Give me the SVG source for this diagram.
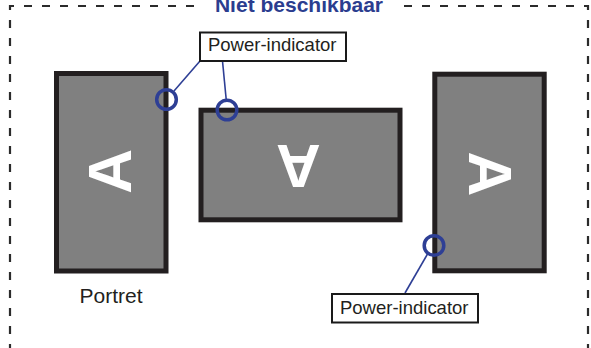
<svg xmlns="http://www.w3.org/2000/svg" width="591" height="348" viewBox="0 0 591 348">
<style>
.frame{fill:none;stroke:#2b2b2b;stroke-width:2.2;stroke-dasharray:8 10}
.screen{fill:#808080;stroke:#231f20;stroke-width:5}
.bigA{font-family:"Liberation Sans",Arial,sans-serif;font-weight:bold;font-size:62px;fill:#ffffff;text-anchor:middle}
.ind{fill:none;stroke:#2e3f95;stroke-width:3.5}
.lead{stroke:#2e3f95;stroke-width:1.6;fill:none}
.lbox{fill:#ffffff;stroke:#1a1a1a;stroke-width:2}
.ltxt{font-family:"Liberation Sans",Arial,sans-serif;font-size:18.5px;fill:#231f20}
.title{font-family:"Liberation Sans",Arial,sans-serif;font-weight:bold;font-size:21px;fill:#2b3d8f;text-anchor:middle}
</style>
<g id="frame">
<path class="frame" d="M10,352 V6 H196"/>
<path class="frame" d="M588,352 V6 H403"/>
<text class="title" x="299" y="12">Niet beschikbaar</text>
</g>
<g id="portrait-left">
<rect class="screen" x="56.5" y="73.5" width="109.5" height="197.5"/>
<text class="bigA" transform="translate(108.3,171.3) rotate(-90)" x="0" y="22.2">A</text>
</g>
<g id="landscape-flipped">
<rect class="screen" x="201" y="110.2" width="199" height="109.6"/>
<text class="bigA" transform="translate(298.3,167.5) rotate(180)" x="0" y="22.2">A</text>
</g>
<g id="portrait-right">
<rect class="screen" x="434.8" y="74.2" width="109.4" height="196.6"/>
<text class="bigA" transform="translate(490.8,173.8) rotate(90)" x="0" y="22.2">A</text>
</g>
<g id="connectors">
<line class="lead" x1="174" y1="91" x2="200" y2="61"/>
<line class="lead" x1="222.5" y1="61" x2="226.3" y2="100.5"/>
<line class="lead" x1="427.5" y1="254" x2="405" y2="293"/>
</g>
<g id="indicators">
<circle class="ind" cx="166.5" cy="99.5" r="9.8"/>
<circle class="ind" cx="227" cy="110" r="9.8"/>
<circle class="ind" cx="434" cy="245.5" r="9.8"/>
</g>
<g id="label-top">
<rect class="lbox" x="200" y="32.5" width="146" height="28.5"/>
<text class="ltxt" x="208" y="51" textLength="128.5" lengthAdjust="spacingAndGlyphs">Power-indicator</text>
</g>
<g id="label-bottom">
<rect class="lbox" x="332" y="294" width="146" height="28.5"/>
<text class="ltxt" x="340" y="313.5" textLength="128.5" lengthAdjust="spacingAndGlyphs">Power-indicator</text>
</g>
<g id="caption">
<text x="79.5" y="302.7" style="font-family:'Liberation Sans',Arial,sans-serif;font-size:21px;fill:#231f20">Portret</text>
</g>
</svg>
